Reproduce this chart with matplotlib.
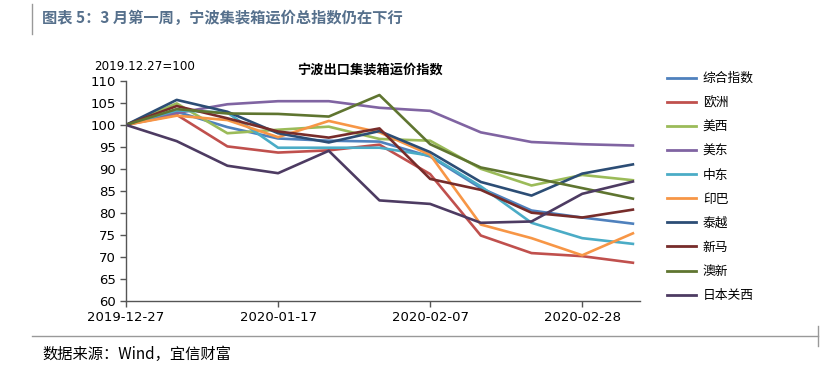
import matplotlib.pyplot as plt
from matplotlib.lines import Line2D

plt.rcParams['font.family'] = ['Noto Sans CJK SC', 'DejaVu Sans']

dates = ['2019-12-27', '2020-01-03', '2020-01-10', '2020-01-17', '2020-01-24', '2020-01-31',
         '2020-02-07', '2020-02-14', '2020-02-21', '2020-02-28', '2020-03-06']
tick_idx = [0, 3, 6, 9]

zonghe = [100, 103.0, 99.5, 96.9, 96.4, 96.2, 92.8, 85.6, 80.5, 78.9, 77.5]
ouzhou = [100, 102.3, 95.1, 93.7, 94.2, 95.5, 88.8, 74.8, 70.8, 70.1, 68.6]
meixi = [100, 104.9, 98.1, 98.9, 99.6, 96.8, 96.4, 90.0, 86.2, 88.6, 87.4]
meidong = [100, 102.7, 104.7, 105.4, 105.4, 103.9, 103.2, 98.3, 96.1, 95.6, 95.3]
zhongdong = [100, 103.3, 102.8, 94.8, 94.8, 94.8, 93.0, 86.0, 77.7, 74.2, 72.9]
yinba = [100, 102.1, 101.1, 97.2, 100.9, 98.3, 93.2, 77.3, 74.2, 70.3, 75.3]
taiyue = [100, 105.7, 103.0, 98.1, 96.0, 98.6, 93.8, 87.0, 83.9, 88.9, 91.0]
xinma = [100, 104.3, 101.5, 98.5, 97.1, 99.2, 87.7, 85.2, 80.0, 78.9, 80.7]
aoxin = [100, 103.6, 102.6, 102.5, 101.9, 106.8, 95.6, 90.3, 88.0, 85.6, 83.2]
riben = [100, 96.3, 90.7, 89.0, 94.1, 82.8, 82.0, 77.7, 78.0, 84.3, 87.1]

names = ['综合指数', '欧洲', '美西', '美东', '中东', '印巴', '泰越', '新马', '澳新', '日本关西']
series = [zonghe, ouzhou, meixi, meidong, zhongdong, yinba, taiyue, xinma, aoxin, riben]
colors = ['#4F81BD', '#C0504D', '#9BBB59', '#8064A2', '#4BACC6', '#F79646',
          '#2C4D75', '#772C2A', '#5F7530', '#4D3B62']

fig = plt.figure(figsize=(8.28, 3.74), dpi=100)
ax = fig.add_axes([126/828, 1-300.5/374, (640-126)/828, (300.5-81)/374])

x = list(range(len(dates)))
for vals, name, c in zip(series, names, colors):
    ax.plot(x, vals, color=c, lw=1.9, label=name)

ax.set_ylim(60, 110)
ax.set_yticks(range(60, 111, 5))
ax.set_xlim(0, 10.14)
ax.set_xticks(tick_idx)
ax.set_xticklabels([dates[i] for i in tick_idx])
for s in ['top', 'right']:
    ax.spines[s].set_visible(False)
for s in ['left', 'bottom']:
    ax.spines[s].set_color('#555555')
    ax.spines[s].set_linewidth(1.0)
ax.tick_params(axis='both', colors='#555555', labelcolor='black', labelsize=9.5, length=4, width=1)
for lab in ax.get_xticklabels() + ax.get_yticklabels():
    lab.set_family('DejaVu Sans')

ax.text(-0.062, 1.035, '2019.12.27=100', transform=ax.transAxes, fontsize=8.6,
        family='DejaVu Sans', ha='left', va='bottom')
fig.text(370/828, 1-70/374, '宁波出口集装箱运价指数', fontsize=9.5, fontweight='bold',
         ha='center', va='center')

handles = [Line2D([], [], color=c, lw=2.0) for c in colors]
fig.legend(handles, names, loc='upper left', bbox_to_anchor=(662/828, 1-67/374),
           frameon=False, fontsize=9.2, handlelength=2.3, labelspacing=0.87,
           handletextpad=0.5, borderaxespad=0)

fig.text(42/828, 1-18/374, '图表 5：3 月第一周，宁波集装箱运价总指数仍在下行',
         fontsize=11, fontweight='bold', color='#56708C', ha='left', va='center')
fig.text(42/828, 1-354/374, '数据来源：Wind，宜信财富', fontsize=11, ha='left', va='center')

fig.add_artist(Line2D([32/828, 32/828], [1-4/374, 1-34/374], color='#999999', lw=1))
fig.add_artist(Line2D([32/828, 818/828], [1-336/374, 1-336/374], color='#999999', lw=1))
fig.add_artist(Line2D([818/828, 818/828], [1-326/374, 1-346/374], color='#999999', lw=1))

fig.savefig('out.png', dpi=100)
